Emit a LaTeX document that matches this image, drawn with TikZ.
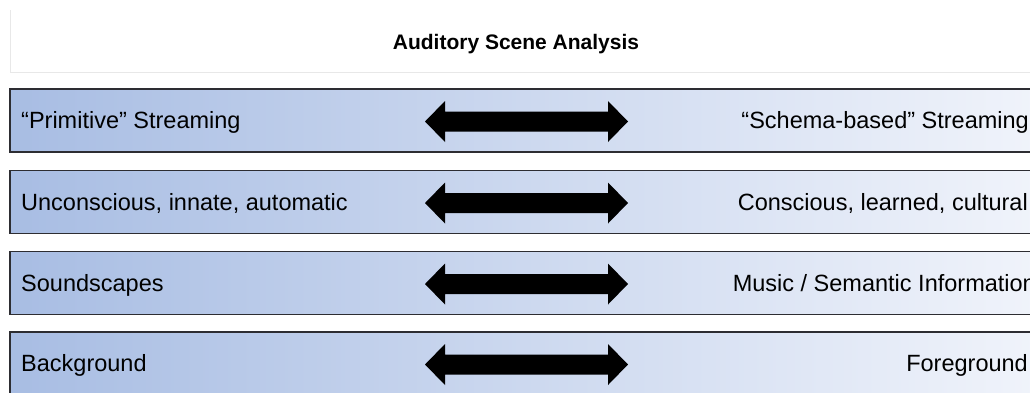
\documentclass[tikz,border=0pt]{standalone}
\usepackage{fontspec}
\setmainfont{Liberation Sans}
\usetikzlibrary{positioning}
\definecolor{barleft}{RGB}{168,189,227}
\definecolor{barright}{RGB}{241,244,251}
\definecolor{barframe}{RGB}{45,45,50}
\definecolor{titleframe}{RGB}{232,232,232}
\tikzset{
  bar/.style={left color=barleft, right color=barright, shading angle=90,
    draw=barframe, line width=1.3pt},
  lefttext/.style={anchor=base west, inner sep=0pt, font=\fontsize{23.5}{28}\selectfont},
  righttext/.style={anchor=base east, inner sep=0pt, font=\fontsize{23.5}{28}\selectfont},
  titletext/.style={anchor=base, inner sep=0pt, font=\fontsize{21}{25}\selectfont\bfseries},
  dblarrow/.style={fill=black, draw=none},
}
\begin{document}
\begin{tikzpicture}[x=1pt,y=-1pt]
\useasboundingbox (0,0) rectangle (1030,392);
\fill[white] (0,0) rectangle (1030,392);

% title panel
\draw[titleframe, line width=1pt] (10,10) -- (10,72) -- (1045,72);
\node[titletext] (title) at (516,49) {Auditory Scene Analysis};

% the four rows: top edge, left label, right label, right label end
\foreach \top/\ltxt/\rtxt/\rend [count=\i] in {
  89/{“Primitive” Streaming}/{“Schema-based” Streaming}/1029,
  170.5/{Unconscious, innate, automatic}/{Conscious, learned, cultural}/1028,
  251.5/{Soundscapes}/{Music / Semantic Information}/1036,
  332/{Background}/{Foreground}/1028}{
  \pgfmathsetmacro\mid{\top+31.5}
  \pgfmathsetmacro\bot{\top+63}
  \draw[bar] (10,\top) rectangle (1050,\bot);
  \node[lefttext] (left\i) at (21,\mid+8.3) {\ltxt};
  \node[righttext] (right\i) at (\rend,\mid+8.3) {\rtxt};
  \fill[dblarrow] (425,\mid+1) -- (445,\mid-19.5) -- (445,\mid-9) -- (608,\mid-9)
    -- (608,\mid-19.5) -- (628,\mid+1) -- (608,\mid+21.5) -- (608,\mid+11)
    -- (445,\mid+11) -- (445,\mid+21.5) -- cycle;
}
\end{tikzpicture}
\end{document}
